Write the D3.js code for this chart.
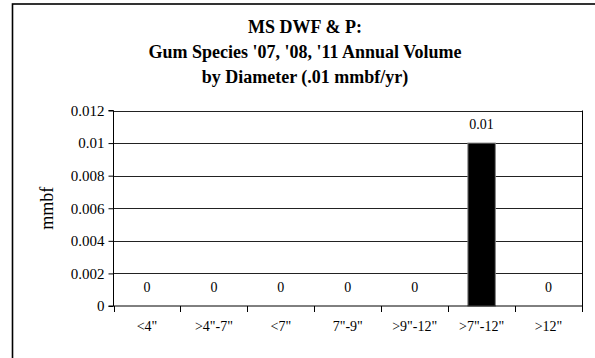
<!DOCTYPE html>
<html>
<head>
<meta charset="utf-8">
<script src="https://cdn.jsdelivr.net/npm/d3@7"></script>
<style>
  html, body { margin: 0; padding: 0; background: #fff; }
  svg { display: block; }
  text { font-family: "Liberation Serif", "Times New Roman", serif; fill: #000; }
</style>
</head>
<body>
<svg id="chart" width="595" height="358"></svg>
<script>
const categories = ['<4"', '>4"-7"', '<7"', '7"-9"', '>9"-12"', '>7"-12"', '>12"'];
const volumes = [0, 0, 0, 0, 0, 0.01, 0];
const valueLabels = ["0", "0", "0", "0", "0", "0.01", "0"];
const yTicks = [0, 0.002, 0.004, 0.006, 0.008, 0.01, 0.012];
const yTickLabels = ["0", "0.002", "0.004", "0.006", "0.008", "0.01", "0.012"];
const titleLines = ["MS DWF & P:", "Gum Species '07, '08, '11 Annual Volume", "by Diameter (.01 mmbf/yr)"];
const yTitle = "mmbf";

const svg = d3.select("#chart");
const W = 595, H = 358;
const plot = { left: 113.5, right: 582, top: 110.5, bottom: 306 };

// outer chart frame (extends past right/bottom edges)
svg.append("rect")
  .attr("x", 12.5).attr("y", 4)
  .attr("width", 600).attr("height", 400)
  .attr("fill", "#fff")
  .attr("stroke", "#000").attr("stroke-width", 1.6);

// title
const title = svg.append("text")
  .attr("text-anchor", "middle")
  .style("font-size", "18px").style("font-weight", "bold");
titleLines.forEach((t, i) => {
  title.append("tspan").attr("x", 305).attr("y", 33 + i * 25).text(t);
});

const x = d3.scaleBand().domain(categories).range([plot.left, plot.right]).paddingInner(0.59).paddingOuter(0.295);
const xb = d3.scaleBand().domain(categories).range([plot.left, plot.right]);
const y = d3.scaleLinear().domain([0, 0.012]).range([plot.bottom, plot.top]);

// plot area background
svg.append("rect")
  .attr("x", plot.left).attr("y", plot.top)
  .attr("width", plot.right - plot.left).attr("height", plot.bottom - plot.top)
  .attr("fill", "#fff");

// gridlines
svg.append("g").selectAll("line").data(yTicks.filter(d => d > 0)).join("line")
  .attr("x1", plot.left).attr("x2", plot.right)
  .attr("y1", d => Math.round(y(d)) + 0.5).attr("y2", d => Math.round(y(d)) + 0.5)
  .attr("stroke", "#222").attr("stroke-width", 1);

// right border
svg.append("line")
  .attr("x1", plot.right + 0.5).attr("x2", plot.right + 0.5)
  .attr("y1", plot.top).attr("y2", plot.bottom)
  .attr("stroke", "#000");

// bars
svg.append("g").selectAll("rect").data(volumes).join("rect")
  .attr("x", (d, i) => x(categories[i]))
  .attr("width", x.bandwidth())
  .attr("y", d => y(d))
  .attr("height", d => y(0) - y(d))
  .attr("fill", "#000")
  .attr("stroke", "#808080").attr("stroke-width", 1);

// value labels
svg.append("g").selectAll("text").data(volumes).join("text")
  .attr("x", (d, i) => xb(categories[i]) + xb.bandwidth() / 2)
  .attr("y", d => y(d) - 14)
  .attr("text-anchor", "middle")
  .style("font-size", "14px")
  .text((d, i) => valueLabels[i]);

// y axis
const yAxis = d3.axisLeft(y).tickValues(yTicks)
  .tickFormat((d, i) => yTickLabels[i]).tickSize(5).tickPadding(4);
const gy = svg.append("g").attr("transform", `translate(${plot.left},0)`).call(yAxis);
gy.select(".domain").attr("stroke", "#000").attr("d", `M-5,${plot.top}H0V${plot.bottom}H-5`);
gy.selectAll(".tick line").attr("stroke", "#000");
gy.selectAll(".tick text").style("font-size", "15px").style("font-family", "Liberation Serif, serif");

// x axis
const xAxis = d3.axisBottom(xb).tickSize(0).tickPadding(15);
const gx = svg.append("g").attr("transform", `translate(0,${plot.bottom})`).call(xAxis);
gx.select(".domain").attr("stroke", "#000").attr("d", `M${plot.left},0H${plot.right}`);
gx.selectAll(".tick text").style("font-size", "14px").style("font-family", "Liberation Serif, serif");
// category separator ticks
const edges = categories.map(c => xb(c)).concat([plot.right]);
gx.append("g").selectAll("line").data(edges).join("line")
  .attr("x1", d => Math.round(d) + 0.5).attr("x2", d => Math.round(d) + 0.5)
  .attr("y1", 0).attr("y2", 6)
  .attr("stroke", "#000");

// y axis title
svg.append("text")
  .attr("transform", `translate(53,${(plot.top + plot.bottom) / 2}) rotate(-90)`)
  .attr("text-anchor", "middle")
  .style("font-size", "18px")
  .text(yTitle);
</script>
</body>
</html>
